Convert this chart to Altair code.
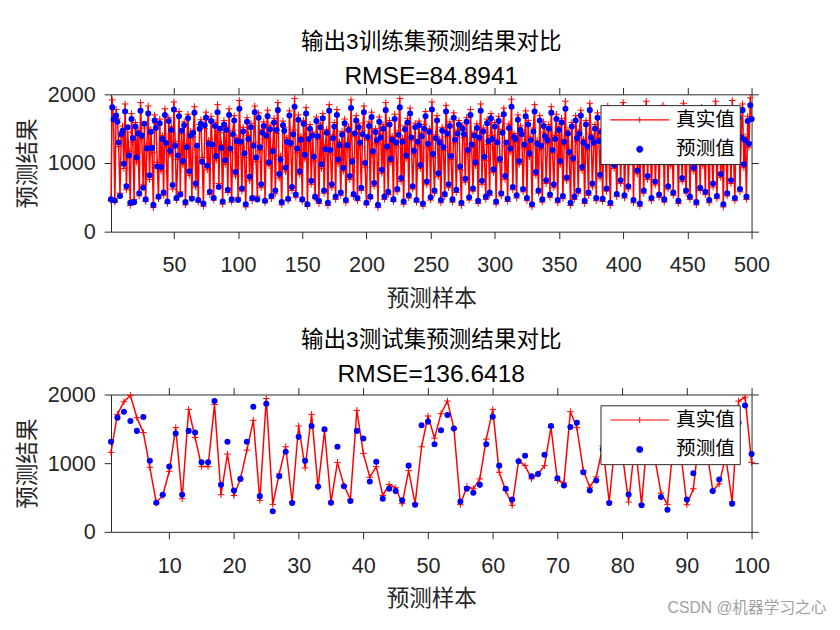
import altair as alt
import pandas as pd

# ---------------- data ----------------
train_true = [
    452, 1920, 1610, 430, 1780, 1650, 1240, 560, 1380, 1540, 920, 1860, 610, 1450, 1170, 380, 1720, 1300, 470, 1590,
    1010, 1480, 520, 1880, 1350, 690, 1510, 440, 1260, 1830, 760, 1490, 1150, 350, 1700, 1570, 1010, 480, 1640, 880,
    1400, 530, 1790, 1230, 410, 1660, 1120, 1530, 620, 1890, 1310, 460, 1050, 1750, 580, 1420, 970, 1600, 390, 1280,
    1710, 820, 1460, 510, 1380, 1820, 650, 1190, 430, 1560, 1630, 1080, 370, 1500, 1740, 900, 1330, 540, 1680, 1210,
    460, 1590, 1040, 1850, 700, 1440, 1270, 400, 1620, 980, 1540, 570, 1790, 1160, 430, 1470, 1690, 810, 1370, 500,
    1910, 1250, 590, 1520, 1080, 360, 1660, 1400, 740, 1580, 450, 1300, 1830, 1020, 520, 1730, 1180, 640, 1490, 1600,
    420, 1350, 1770, 960, 1550, 480, 1220, 1650, 550, 1430, 1880, 780, 1100, 390, 1610, 1520, 870, 1370, 450, 1760,
    1240, 600, 1480, 1940, 500, 1150, 1700, 830, 1390, 440, 1620, 1060, 1810, 370, 1290, 1560, 690, 1450, 1030, 480,
    1670, 1340, 410, 1580, 920, 1720, 560, 1260, 1490, 380, 1850, 1130, 640, 1410, 1590, 470, 1780, 990, 1310, 530,
    1460, 880, 1640, 420, 1200, 1530, 760, 1920, 1070, 510, 1380, 1690, 450, 1580, 1250, 600, 1470, 1830, 940, 390,
    1330, 1600, 480, 1740, 1120, 660, 1500, 1280, 350, 1670, 1420, 850, 1560, 470, 1880, 1190, 540, 1620, 1010, 1390,
    440, 1710, 1250, 580, 1470, 1940, 730, 1360, 400, 1540, 1060, 1650, 490, 1800, 1320, 620, 1130, 1580, 430, 1260,
    1610, 920, 1440, 370, 1560, 1750, 680, 1230, 1500, 460, 1890, 1080, 560, 1410, 1690, 800, 1350, 420, 1520, 1180,
    510, 1840, 1380, 640, 1600, 1050, 430, 1730, 1290, 570, 1480, 1620, 900, 380, 1550, 1370, 720, 1660, 1140, 460,
    1780, 1220, 590, 1450, 960, 1570, 410, 1320, 1860, 690, 1510, 1040, 470, 1640, 1270, 530, 1720, 1400, 860, 1590,
    400, 1350, 1680, 1010, 520, 1490, 1800, 760, 1250, 440, 1570, 1160, 1930, 610, 1430, 1300, 490, 1700, 980, 1540,
    1470, 580, 1220, 1760, 450, 1620, 1090, 1380, 360, 1510, 1850, 820, 1330, 560, 1690, 1200, 430, 1600, 1440, 700,
    1280, 1560, 500, 1820, 1140, 640, 1400, 1710, 420, 1530, 980, 1650, 480, 1260, 1900, 740, 1480, 1110, 380, 1590,
    1020, 470, 1690, 1310, 560, 1480, 1770, 890, 1350, 410, 1620, 1190, 530, 1870, 1420, 650, 1250, 1560, 450, 1730,
    1370, 780, 1500, 440, 1640, 1210, 590, 1830, 1060, 380, 1540, 1700, 920, 1290, 510, 1470, 1610, 700, 1400, 1880,
    490, 1240, 1660, 620, 1430, 1010, 1790, 420, 1350, 1580, 840, 1470, 370, 1720, 1160, 560, 1520, 1900, 760, 1300,
    1590, 450, 1380, 1750, 680, 1200, 1630, 500, 1460, 1090, 1840, 430, 1570, 1320, 620, 1680, 960, 1410, 530, 1760,
    1150, 1500, 410, 1620, 1280, 730, 1870, 1040, 560, 1440, 1690, 470, 1330, 1560, 880, 1220, 390, 1650, 1480, 600,
    1810, 960, 1370, 540, 1590, 1260, 420, 1700, 1110, 650, 1520, 1900, 480, 1300, 1620, 790, 1450, 360, 1580, 1190,
    520, 1640, 1350, 700, 1910, 1080, 450, 1560, 1270, 1730, 580, 1420, 1860, 930, 1380, 470, 1680, 1230, 1950, 1650,
]
train_pred = [
    470, 1810, 1640, 455, 1690, 1600, 1300, 520, 1420, 1470, 990, 1750, 660, 1520, 1110, 420, 1640, 1360, 430, 1530,
    1080, 1430, 560, 1760, 1400, 640, 1570, 470, 1210, 1720, 820, 1450, 1220, 390, 1620, 1510, 950, 510, 1580, 940,
    1350, 570, 1700, 1290, 440, 1610, 1180, 1480, 680, 1780, 1250, 490, 1110, 1680, 540, 1470, 1030, 1550, 430, 1230,
    1650, 880, 1400, 480, 1440, 1730, 700, 1250, 460, 1500, 1570, 1020, 410, 1550, 1660, 960, 1280, 580, 1610, 1270,
    490, 1540, 1100, 1740, 650, 1500, 1220, 440, 1560, 1040, 1480, 610, 1700, 1210, 470, 1420, 1620, 870, 1320, 460,
    1790, 1310, 630, 1460, 1140, 400, 1600, 1350, 800, 1520, 490, 1250, 1740, 1080, 470, 1660, 1230, 690, 1440, 1540,
    450, 1400, 1680, 1010, 1490, 520, 1170, 1590, 600, 1480, 1770, 840, 1050, 430, 1550, 1470, 930, 1310, 480, 1690,
    1290, 650, 1420, 1820, 540, 1210, 1630, 880, 1340, 470, 1570, 1120, 1720, 400, 1350, 1500, 740, 1400, 1090, 510,
    1610, 1390, 450, 1520, 980, 1650, 600, 1200, 1440, 420, 1760, 1190, 690, 1360, 1530, 510, 1700, 1050, 1260, 570,
    1410, 930, 1580, 460, 1260, 1480, 810, 1800, 1020, 550, 1430, 1620, 490, 1520, 1300, 640, 1420, 1740, 1000, 420,
    1380, 1540, 510, 1670, 1170, 710, 1450, 1330, 390, 1600, 1370, 900, 1500, 510, 1770, 1240, 580, 1560, 1060, 1340,
    470, 1640, 1300, 620, 1410, 1810, 780, 1310, 440, 1490, 1110, 1590, 530, 1720, 1370, 660, 1180, 1520, 460, 1310,
    1550, 970, 1390, 410, 1500, 1680, 730, 1280, 1450, 500, 1780, 1130, 600, 1360, 1620, 850, 1300, 460, 1470, 1230,
    550, 1750, 1430, 690, 1540, 1100, 470, 1660, 1340, 610, 1430, 1560, 950, 420, 1500, 1420, 770, 1600, 1190, 500,
    1700, 1270, 630, 1400, 1010, 1510, 450, 1370, 1760, 740, 1460, 1090, 510, 1580, 1320, 570, 1650, 1350, 910, 1530,
    440, 1300, 1610, 1060, 560, 1440, 1710, 810, 1300, 480, 1510, 1210, 1820, 650, 1380, 1350, 530, 1630, 1030, 1480,
    1420, 620, 1270, 1680, 490, 1560, 1140, 1330, 400, 1460, 1750, 870, 1280, 600, 1620, 1250, 470, 1540, 1390, 750,
    1330, 1500, 540, 1730, 1190, 690, 1350, 1640, 460, 1480, 1030, 1590, 520, 1310, 1790, 790, 1430, 1160, 420, 1530,
    1070, 510, 1620, 1360, 600, 1430, 1690, 940, 1300, 450, 1560, 1240, 570, 1770, 1370, 700, 1300, 1500, 490, 1660,
    1320, 830, 1450, 480, 1580, 1260, 630, 1740, 1110, 420, 1490, 1630, 970, 1340, 550, 1420, 1550, 750, 1350, 1770,
    530, 1290, 1600, 660, 1380, 1060, 1700, 460, 1400, 1520, 890, 1420, 410, 1650, 1210, 600, 1470, 1790, 810, 1350,
    1530, 490, 1430, 1670, 730, 1250, 1570, 540, 1410, 1140, 1750, 470, 1510, 1370, 660, 1610, 1010, 1360, 570, 1690,
    1200, 1450, 450, 1560, 1330, 780, 1770, 1090, 600, 1390, 1620, 510, 1380, 1500, 930, 1270, 430, 1590, 1430, 640,
    1720, 1010, 1320, 580, 1530, 1310, 460, 1630, 1160, 700, 1470, 1790, 520, 1350, 1560, 840, 1400, 400, 1520, 1240,
    560, 1580, 1400, 750, 1800, 1130, 490, 1500, 1320, 1660, 620, 1370, 1770, 980, 1330, 510, 1610, 1280, 1840, 1640,
]
test_true = [
    1157, 1711, 1894, 1986, 1663, 1446, 940, 424, 530, 882,
    1518, 482, 1783, 1374, 950, 950, 1856, 540, 1133, 530,
    771, 1190, 1624, 458, 1942, 400, 843, 1239, 434, 1542,
    930, 1711, 650, 1470, 434, 1012, 675, 472, 1769, 1142,
    795, 950, 530, 689, 641, 410, 892, 410, 1239, 1687,
    1364, 1721, 1904, 1504, 395, 660, 627, 771, 1350, 1783,
    868, 602, 386, 1036, 964, 771, 843, 964, 1520, 747,
    713, 1750, 1518, 892, 650, 800, 1250, 434, 1400, 1150,
    434, 1300, 400, 1500, 1100, 564, 400, 1350, 1200, 395,
    627, 1450, 1250, 600, 699, 1100, 434, 1904, 1961, 1012,
]
test_pred = [
    1311, 1663, 1750, 1615, 1470, 1673, 1036, 424, 540, 950,
    1432, 540, 1470, 1446, 1012, 1012, 1904, 684, 1311, 602,
    771, 1311, 1822, 520, 1865, 299, 810, 1166, 419, 1383,
    1036, 1542, 660, 1494, 424, 1239, 665, 448, 1470, 1359,
    733, 1022, 482, 627, 593, 458, 964, 395, 1552, 1605,
    1277, 1480, 1701, 1504, 443, 627, 569, 684, 1277, 1677,
    964, 627, 472, 1027, 1108, 810, 843, 1123, 1542, 781,
    675, 1528, 1590, 868, 602, 747, 1200, 419, 1350, 1200,
    545, 1250, 386, 1450, 1150, 506, 323, 1300, 1250, 472,
    853, 1400, 1300, 593, 761, 1150, 410, 1590, 1841, 1133,
]
series_names = ["真实值", "预测值"]
train_title = "输出3训练集预测结果对比"
train_rmse = "RMSE=84.8941"
test_title = "输出3测试集预测结果对比"
test_rmse = "RMSE=136.6418"
train_xticks = [50, 100, 150, 200, 250, 300, 350, 400, 450, 500]
test_xticks = [10, 20, 30, 40, 50, 60, 70, 80, 90, 100]
yticks = [0, 1000, 2000]

# ---------------- style ----------------
FONT_NUM = "Arial, Liberation Sans, Noto Sans CJK SC, sans-serif"
FONT_CJK = "Noto Sans CJK SC, sans-serif"
AX = "#262626"
RED = "#FF0000"
BLUE = "#0000FF"
W, H = 653, 140

PLUS = "M-1,0H1M0,-1V1"
LEG_LINE = "M-1,-0.12H11V0.12H-1Z M4.4,-0.1H5.6V0.1H4.4Z M4.9,-0.6H5.1V0.6H4.9Z"
LEG_DOT = "M5.7,0A0.7,0.7,0,1,1,4.3,0A0.7,0.7,0,1,1,5.7,0Z"

axis_common = dict(
    domainColor=AX, tickColor=AX, tickSize=7, tickWidth=1, domainWidth=1,
    grid=False, labelFont=FONT_NUM, labelFontSize=22, labelColor=AX,
    titleFont=FONT_CJK, titleFontSize=23, titleFontWeight="normal", titleColor=AX,
    labelFlush=False, labelOverlap=False,
)


def panel(true_vals, pred_vals, xmax, xticks, title, rmse, title_offset):
    n = len(true_vals)
    df = pd.DataFrame({"idx": list(range(1, n + 1)), "true": true_vals, "pred": pred_vals})
    xs = alt.Scale(domain=[1, xmax], nice=False, zero=False)
    ys = alt.Scale(domain=[0, 2000], nice=False, zero=False)
    base = alt.Chart(df)

    line = base.mark_line(color=RED, strokeWidth=1.5).encode(
        x=alt.X("idx:Q", scale=xs, axis=alt.Axis(values=xticks, title="预测样本",
                                                 labelPadding=17, titlePadding=12, **axis_common)),
        y=alt.Y("true:Q", scale=ys, axis=alt.Axis(values=yticks, title="预测结果", format="d",
                                                  labelPadding=9, titlePadding=8, **axis_common)),
    )
    plus = base.mark_point(shape=PLUS, size=45, color=RED, strokeWidth=1, filled=False, opacity=1).encode(
        x=alt.X("idx:Q", scale=xs, axis=alt.Axis(orient="top", values=xticks, labels=False, title=None, **axis_common)),
        y=alt.Y("true:Q", scale=ys, axis=alt.Axis(orient="right", values=yticks, labels=False, title=None, **axis_common)),
    )
    dots = base.mark_circle(size=38, color=BLUE, opacity=1).encode(
        x=alt.X("idx:Q", scale=xs, axis=None),
        y=alt.Y("pred:Q", scale=ys, axis=None),
    )
    leg_df = pd.DataFrame({"series": series_names, "idx": [None, None], "v": [None, None]})
    leg_props = dict(
        title=None, orient="none", legendX=499, legendY=11,
        fillColor="white", strokeColor=AX, padding=5,
        labelFont=FONT_CJK, labelFontSize=20, labelColor="black", labelOffset=52,
        symbolSize=100, symbolStrokeWidth=0, rowPadding=10,
    )
    leg = alt.Chart(leg_df).mark_point(filled=True, size=100, opacity=1, strokeWidth=0).encode(
        x=alt.X("idx:Q", scale=xs, axis=None),
        y=alt.Y("v:Q", scale=ys, axis=None),
        color=alt.Color("series:N", scale=alt.Scale(domain=series_names, range=[RED, BLUE]),
                        legend=alt.Legend(**leg_props)),
        shape=alt.Shape("series:N", scale=alt.Scale(domain=series_names, range=[LEG_LINE, LEG_DOT]),
                        legend=alt.Legend(**leg_props)),
    )
    return alt.layer(line, plus, dots, leg).resolve_axis(x="independent", y="independent").properties(
        width=W, height=H,
        title=alt.TitleParams(
            text=title, subtitle=rmse, font=FONT_NUM, fontSize=23, fontWeight="normal", color="black",
            subtitleFont=FONT_NUM, subtitleFontSize=25, subtitleColor="black", subtitlePadding=10,
            offset=title_offset, anchor="middle", frame="group",
        ),
    )


top = panel(train_true, train_pred, 500, train_xticks, train_title, train_rmse, -5)
bottom = panel(test_true, test_pred, 100, test_xticks, test_title, test_rmse, -3)

chart = alt.vconcat(top, bottom, spacing=20).resolve_scale(
    color="independent", shape="independent"
).properties(
    padding={"left": 9, "top": 18, "right": 5, "bottom": 5},
    title=alt.TitleParams(text="CSDN @机器学习之心", orient="bottom", anchor="end", fontSize=16,
                          font=FONT_NUM, fontWeight="normal", color="#a0a0a0", dx=58, offset=-10),
).configure_view(stroke=None)

chart.save("out.html", embed_options={"renderer": "svg", "actions": False})
